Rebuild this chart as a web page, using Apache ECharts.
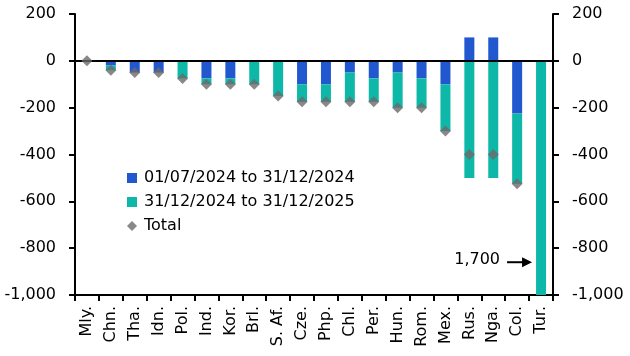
<!DOCTYPE html>
<html>
<head>
<meta charset="utf-8">
<script src="https://cdn.jsdelivr.net/npm/echarts@6/dist/echarts.min.js"></script>
<style>html,body{margin:0;padding:0;background:#fff}#c{width:630px;height:356px}</style>
</head>
<body>
<div id="c"></div>
<script>
const categories = ['Mly.','Chn.','Tha.','Idn.','Pol.','Ind.','Kor.','Brl.','S. Af.','Cze.','Php.','Chl.','Per.','Hun.','Rom.','Mex.','Rus.','Nga.','Col.','Tur.'];
const h2_2024 = [0,-20,-50,-50,0,-75,-75,0,0,-100,-100,-50,-75,-50,-75,-100,100,100,-225,0];
const y2025 = [0,-20,0,0,-75,-25,-25,-100,-150,-75,-75,-125,-100,-150,-125,-200,-500,-500,-300,-1700];
const total = [0,-40,-50,-50,-75,-100,-100,-100,-150,-175,-175,-175,-175,-200,-200,-300,-400,-400,-525,-1700];
const yTicks = {min:-1000, max:200, interval:200};
const legendNames = ['01/07/2024 to 31/12/2024','31/12/2024 to 31/12/2025','Total'];
const annotation = {text:'1,700', category:'Tur.', value:-860};

const FONT = 'DejaVu Sans';
const fmt = v => (v < 0 ? '-' : '') + Math.abs(v).toLocaleString('en-US');
const chart = echarts.init(document.getElementById('c'), null, {renderer:'canvas'});
const yAxisBase = (pos) => ({
  type:'value', position:pos, min:yTicks.min, max:yTicks.max, interval:yTicks.interval,
  axisLine:{show:true, onZero:false, lineStyle:{color:'#000', width:2}},
  axisTick:{show:true, length:6, lineStyle:{color:'#000', width:2}},
  splitLine:{show:false},
  axisLabel:{formatter:fmt, color:'#000', fontFamily:FONT, fontSize:16, margin:19}
});
chart.setOption({
  animation:false,
  grid:{left:75, right:77, top:14, bottom:61, containLabel:false},
  legend:{
    orient:'vertical', left:127, top:166, padding:0, itemWidth:10, itemHeight:10, itemGap:0,
    textStyle:{fontFamily:FONT, fontSize:16, color:'#000', lineHeight:24, padding:[0,0,0,2]},
    data:[{name:legendNames[0], icon:'rect'},{name:legendNames[1], icon:'rect'},{name:legendNames[2], icon:'diamond'}]
  },
  xAxis:{
    type:'category', data:categories, position:'bottom',
    axisLine:{show:true, onZero:false, lineStyle:{color:'#000', width:2}},
    axisTick:{show:true, length:6, alignWithLabel:false, lineStyle:{color:'#000', width:2}},
    axisLabel:{rotate:90, interval:0, color:'#000', fontFamily:FONT, fontSize:16, margin:11}
  },
  yAxis:[yAxisBase('left'), yAxisBase('right')],
  series:[
    {name:legendNames[0], type:'bar', stack:'a', data:h2_2024, barWidth:10, itemStyle:{color:'#2157CF'}},
    {name:legendNames[1], type:'bar', stack:'a', data:y2025, barWidth:10, itemStyle:{color:'#0DB8A8'}},
    {name:legendNames[2], type:'scatter', data:total, symbol:'diamond', symbolSize:11, z:5,
     itemStyle:{color:'#6A6A6A'},
     markLine:{silent:true, symbol:['none','none'], label:{show:false},
       lineStyle:{color:'#000', width:2, type:'solid'}, data:[{yAxis:0}]}}
  ]
});
const p = chart.convertToPixel({xAxisIndex:0, yAxisIndex:0}, [annotation.category, annotation.value]);
chart.setOption({
  graphic:[
    {type:'text', x:p[0]-41, y:p[1]-2, style:{text:annotation.text, fontFamily:FONT, fontSize:16, fill:'#000', align:'right', verticalAlign:'middle'}},
    {type:'line', shape:{x1:p[0]-34, y1:p[1], x2:p[0]-18, y2:p[1]}, style:{stroke:'#000', lineWidth:2}},
    {type:'polygon', shape:{points:[[p[0]-19,p[1]-5],[p[0]-9,p[1]],[p[0]-19,p[1]+5]]}, style:{fill:'#000'}}
  ]
});
</script>
</body>
</html>
